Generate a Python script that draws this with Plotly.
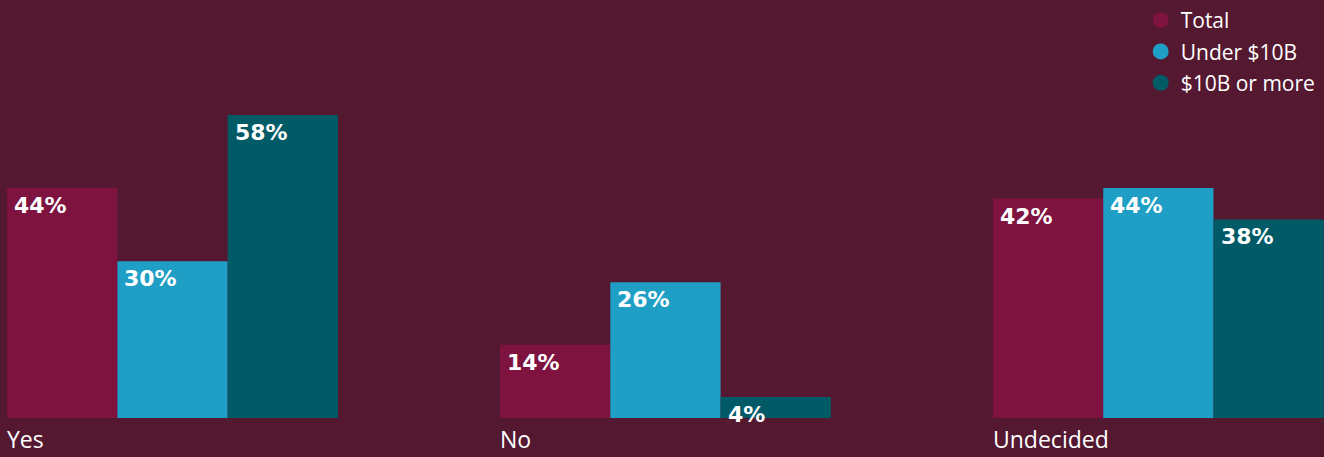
import plotly.graph_objects as go

categories = ["Yes", "No", "Undecided"]
series_names = ["Total", "Under $10B", "$10B or more"]
total = [44, 14, 42]
under_10b = [30, 26, 44]
over_10b = [58, 4, 38]

series_values = [total, under_10b, over_10b]
colors = ["#7E1340", "#1F9FC6", "#015B67"]
bg = "#541831"

x_idx = list(range(len(categories)))
bar_px = 110.3  # width of a single bar on screen

fig = go.Figure()
for name, vals, col in zip(series_names, series_values, colors):
    fig.add_trace(go.Bar(x=x_idx, y=vals, name=name, marker=dict(color=col, line=dict(width=0)),
                         showlegend=False, hoverinfo="skip"))
    # circle swatches for the legend
    fig.add_trace(go.Scatter(x=[None], y=[None], mode="markers", name=name, legendgroup=name,
                             marker=dict(symbol="circle", size=17, color=col)))

annotations = []
for i, vals in enumerate(series_values):
    for xi, v in zip(x_idx, vals):
        annotations.append(dict(
            x=xi, y=v, xref="x", yref="y", text=f"<b>{v}%</b>", showarrow=False,
            xanchor="left", yanchor="top", xshift=(i - 1) * bar_px - bar_px / 2 + 5, yshift=-3,
            font=dict(family="DejaVu Sans", size=22, color="white")))
for xi, cat in zip(x_idx, categories):
    annotations.append(dict(
        x=xi, y=0, xref="x", yref="y", text=cat, showarrow=False,
        xanchor="left", yanchor="top", xshift=-1.5 * bar_px - 2, yshift=-3,
        font=dict(family="Open Sans", size=23, color="white")))

fig.update_layout(
    width=1324, height=457,
    margin=dict(l=0, r=0, t=0, b=39),
    paper_bgcolor=bg, plot_bgcolor=bg,
    barmode="group", bargap=0.329, bargroupgap=0,
    xaxis=dict(range=[-0.35, 2.336], showticklabels=False, showgrid=False, zeroline=False, fixedrange=True),
    yaxis=dict(range=[0, 80], showticklabels=False, showgrid=False, zeroline=False, fixedrange=True),
    legend=dict(x=0.9975, y=1, xanchor="right", yanchor="top", bgcolor="rgba(0,0,0,0)",
                font=dict(family="Open Sans", size=21, color="white"),
                itemwidth=30, tracegroupgap=1),
    annotations=annotations,
    showlegend=True,
)

fig.write_html("out.html")
